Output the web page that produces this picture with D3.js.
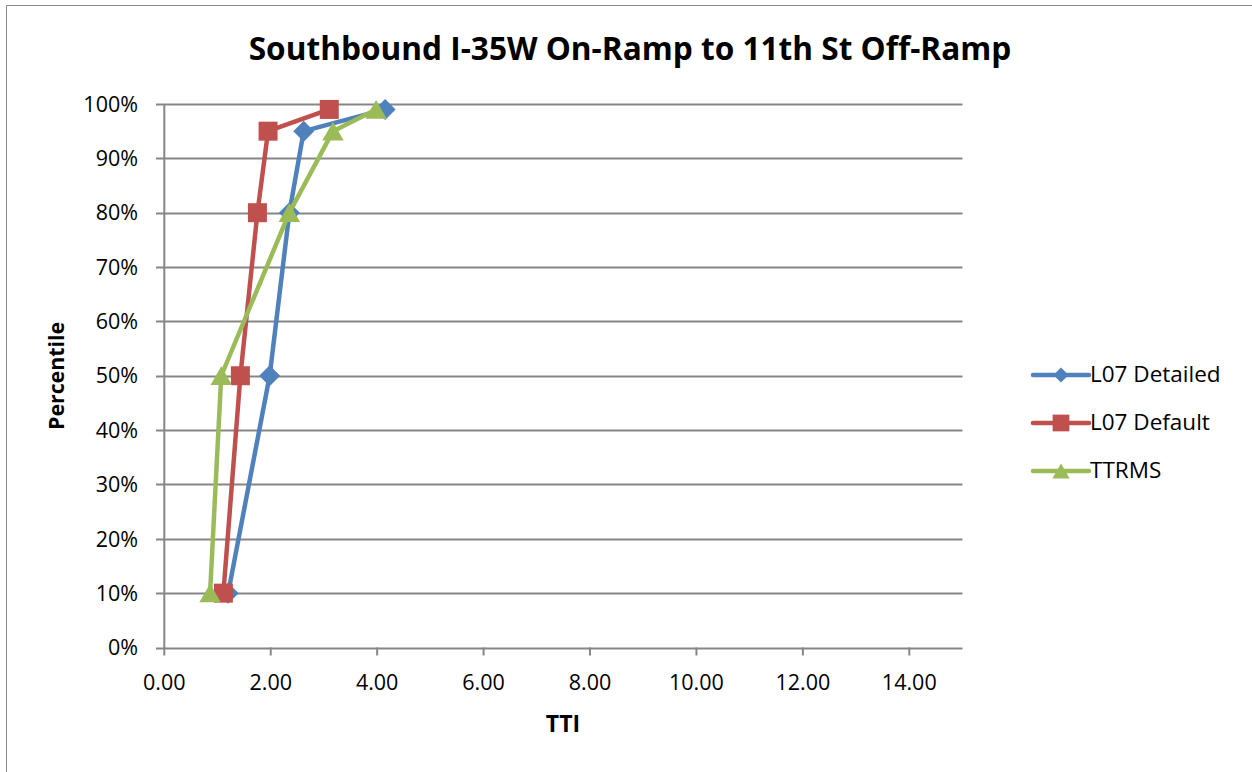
<!DOCTYPE html>
<html><head><meta charset="utf-8">
<script src="https://cdn.jsdelivr.net/npm/d3@7"></script>
<style>body{margin:0;background:#fff}svg{display:block}text{font-family:"Open Sans",Lato,sans-serif;fill:#000}</style>
</head><body>
<svg id="c" width="1252" height="772"></svg>
<script>
const percentiles = [10, 50, 80, 95, 99];
const detailed = [1.20, 1.98, 2.35, 2.62, 4.15];
const defaultVals = [1.11, 1.43, 1.75, 1.95, 3.10];
const ttrms = [0.86, 1.07, 2.35, 3.17, 3.98];
const seriesNames = ["L07 Detailed", "L07 Default", "TTRMS"];
const seriesColors = ["#4F81BD", "#C0504D", "#9BBB59"];
const seriesShapes = [d3.symbolSquare, d3.symbolSquare, d3.symbolTriangle];
const xTicks = [0, 2, 4, 6, 8, 10, 12, 14];
const yTicks = [0, 10, 20, 30, 40, 50, 60, 70, 80, 90, 100];

const svg = d3.select("#c");
svg.append("path").attr("d","M6.5,772V5.5H1252").attr("fill","none").attr("stroke","#898989").attr("stroke-width",1);

const x = d3.scaleLinear().domain([0, 15]).range([164.3, 962.5]);
const y = d3.scaleLinear().domain([0, 100]).range([647.5, 104]);

svg.append("text").attr("x", 630).attr("y", 60).attr("text-anchor","middle")
  .attr("font-size", 31.6).attr("font-weight","bold").text("Southbound I-35W On-Ramp to 11th St Off-Ramp");

// gridlines
svg.append("g").selectAll("line").data(yTicks).join("line")
  .attr("x1", 156).attr("x2", x(15)).attr("y1", d=>Math.round(y(d))+0.5).attr("y2", d=>Math.round(y(d))+0.5)
  .attr("stroke","#868686").attr("stroke-width",2);
// y axis line
svg.append("line").attr("x1", x(0)).attr("x2", x(0)).attr("y1", y(100)).attr("y2", y(0)+1).attr("stroke","#868686").attr("stroke-width",2);
// x ticks
svg.append("g").selectAll("line").data(xTicks).join("line")
  .attr("x1", d=>x(d)).attr("x2", d=>x(d)).attr("y1", y(0)).attr("y2", y(0)+8)
  .attr("stroke","#868686").attr("stroke-width",2);

svg.append("g").selectAll("text").data(yTicks).join("text")
  .attr("x", 138).attr("y", d=>y(d)+7.7).attr("text-anchor","end").attr("font-size",21.5)
  .text(d=>d+"%");
svg.append("g").selectAll("text").data(xTicks).join("text")
  .attr("x", d=>x(d)).attr("y", 690).attr("text-anchor","middle").attr("font-size",21.5)
  .text(d=>d3.format(".2f")(d));

svg.append("text").attr("x", 563).attr("y", 731.5).attr("text-anchor","middle").attr("font-size",23).attr("font-weight","bold").text("TTI");
svg.append("text").attr("transform","translate(64,376) rotate(-90)").attr("text-anchor","middle").attr("font-size",21.3).attr("font-weight","bold").text("Percentile");

const allSeries = [detailed, defaultVals, ttrms];
const line = d3.line().x(d=>x(d[0])).y(d=>y(d[1]));
const symSizes = [220, 361, 200];
allSeries.forEach((vals, i) => {
  const pts = vals.map((v, j) => [v, percentiles[j]]);
  const g = svg.append("g");
  g.append("path").attr("d", line(pts)).attr("fill","none").attr("stroke", seriesColors[i]).attr("stroke-width",4.5).attr("stroke-linejoin","round");
  g.selectAll("path.m").data(pts).join("path").attr("class","m")
    .attr("transform", d=>`translate(${x(d[0])},${y(d[1]) + (i===2?3:0)})` + (i===0?" rotate(45)":""))
    .attr("d", d3.symbol(seriesShapes[i], symSizes[i])())
    .attr("fill", seriesColors[i]);
});

// legend
const legY = [375, 423, 471];
const legSizes = [115, 280, 130];
seriesNames.forEach((n, i) => {
  const g = svg.append("g");
  g.append("line").attr("x1",1033).attr("x2",1089).attr("y1",legY[i]).attr("y2",legY[i]).attr("stroke",seriesColors[i]).attr("stroke-width",4.5).attr("stroke-linecap","round");
  g.append("path").attr("transform", `translate(1061,${legY[i] + (i===2?2.4:0)})` + (i===0?" rotate(45)":""))
    .attr("d", d3.symbol(seriesShapes[i], legSizes[i])()).attr("fill", seriesColors[i]);
  g.append("text").attr("x",1090).attr("y",legY[i]+7.3).attr("font-size",22.5).text(n);
});
</script>
</body></html>
